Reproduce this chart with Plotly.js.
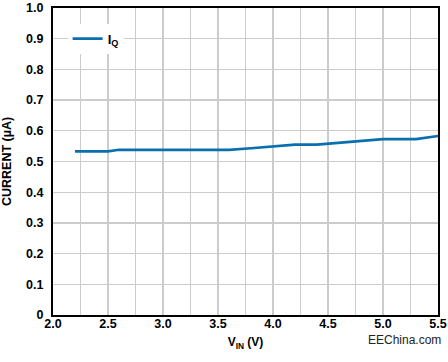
<!DOCTYPE html>
<html>
<head>
<meta charset="utf-8">
<script src="https://cdn.plot.ly/plotly-3.0.1.min.js"></script>
<style>html,body{margin:0;padding:0;background:#fff;}#chart{width:448px;height:362px;}</style>
</head>
<body>
<div id="chart"></div>
<script>
// Data
const vin = [2.2, 2.5, 2.6, 3.0, 3.6, 3.8, 4.0, 4.2, 4.4, 4.6, 4.8, 5.0, 5.2, 5.3, 5.5];
const iq  = [0.533, 0.533, 0.538, 0.538, 0.538, 0.543, 0.549, 0.555, 0.555, 0.561, 0.567, 0.573, 0.573, 0.573, 0.583];
const seriesName = 'I<sub>Q</sub>';
const xTickVals = [2.0, 2.5, 3.0, 3.5, 4.0, 4.5, 5.0, 5.5];
const xTickText = ['2.0', '2.5', '3.0', '3.5', '4.0', '4.5', '5.0', '5.5'];
const yTickVals = [0, 0.1, 0.2, 0.3, 0.4, 0.5, 0.6, 0.7, 0.8, 0.9, 1.0];
const yTickText = ['0', '0.1', '0.2', '0.3', '0.4', '0.5', '0.6', '0.7', '0.8', '0.9', '1.0'];
const xTitle = 'V<sub>IN</sub> (V)';
const yTitle = 'CURRENT (µA)';
const watermark = 'EEChina.com';

const FONT = 'Liberation Sans, Arial, Helvetica, sans-serif';
const GRID = '#cccccc';

const trace = {
  x: vin, y: iq, type: 'scatter', mode: 'lines', name: seriesName,
  line: {color: '#0a6fae', width: 2.6}
};

const layout = {
  width: 448, height: 362,
  margin: {l: 53, r: 10, t: 8, b: 47, pad: 0},
  paper_bgcolor: '#fff', plot_bgcolor: '#fff',
  font: {family: FONT, size: 12, color: '#000', weight: 'bold'},
  showlegend: true,
  legend: {x: 0.038, y: 0.9, xanchor: 'left', yanchor: 'middle', bgcolor: '#fff',
           font: {family: FONT, size: 13, color: '#000', weight: 'bold'}},
  xaxis: {
    range: [2.0, 5.5], tickvals: xTickVals, ticktext: xTickText,
    showgrid: true, gridcolor: GRID, gridwidth: 1.3,
    minor: {dtick: 0.25, tick0: 2.0, showgrid: true, gridcolor: GRID, gridwidth: 1.3},
    showline: true, linecolor: '#000', linewidth: 2, mirror: true,
    ticks: '', automargin: false, ticklabelstandoff: -4,
    zeroline: false,
    tickfont: {family: FONT, size: 12.5, color: '#000', weight: 'bold'},
    title: {text: xTitle, standoff: 8, font: {family: FONT, size: 12, color: '#000', weight: 'bold'}}
  },
  yaxis: {
    range: [0, 1.0], tickvals: yTickVals, ticktext: yTickText,
    showgrid: true, gridcolor: GRID, gridwidth: 1.3,
    showline: true, linecolor: '#000', linewidth: 2, mirror: true,
    ticks: 'outside', ticklen: 5, tickcolor: 'rgba(0,0,0,0)', automargin: false,
    zeroline: false,
    tickfont: {family: FONT, size: 12.5, color: '#000', weight: 'bold'},
    title: {text: yTitle, standoff: 14, font: {family: FONT, size: 12.5, color: '#000', weight: 'bold'}}
  },
  annotations: [{
    text: watermark, xref: 'paper', yref: 'paper', x: 1.012, y: -0.08,
    xanchor: 'right', yanchor: 'middle', showarrow: false,
    font: {family: FONT, size: 12, color: '#222', weight: 'normal'}
  }]
};

Plotly.newPlot('chart', [trace], layout, {displayModeBar: false, staticPlot: true});
</script>
</body>
</html>
